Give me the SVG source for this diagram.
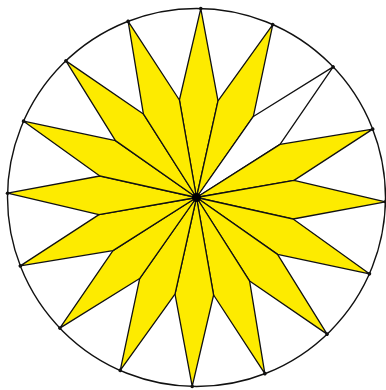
<svg xmlns="http://www.w3.org/2000/svg" xmlns:xlink="http://www.w3.org/1999/xlink" width="386" height="390" viewBox="0 0 386 390">
<style>
.k{fill:#FDEB00;stroke:#111;stroke-width:1.3;stroke-linejoin:round}
.w{fill:#ffffff;stroke:#111;stroke-width:1.3;stroke-linejoin:round}
.rim{fill:none;stroke:#111;stroke-width:1.4}
.tip{fill:#111}
</style>
<defs>
<path id="kite" d="M0,0 L19.31,-97.10 L0,-189 L-19.31,-97.10 Z"/>
<circle id="dot" cx="0" cy="-189" r="1.8"/>
</defs>
<rect width="386" height="390" fill="#ffffff"/>
<g id="star" transform="translate(196.5,197.5)">
<circle class="rim" cx="0" cy="0" r="189"/>
<use xlink:href="#kite" class="k" transform="rotate(1.3)"/>
<use xlink:href="#kite" class="k" transform="rotate(23.8)"/>
<use xlink:href="#kite" class="w" transform="rotate(46.3)"/>
<use xlink:href="#kite" class="k" transform="rotate(68.8)"/>
<use xlink:href="#kite" class="k" transform="rotate(91.3)"/>
<use xlink:href="#kite" class="k" transform="rotate(113.8)"/>
<use xlink:href="#kite" class="k" transform="rotate(136.3)"/>
<use xlink:href="#kite" class="k" transform="rotate(158.8)"/>
<use xlink:href="#kite" class="k" transform="rotate(181.3)"/>
<use xlink:href="#kite" class="k" transform="rotate(203.8)"/>
<use xlink:href="#kite" class="k" transform="rotate(226.3)"/>
<use xlink:href="#kite" class="k" transform="rotate(248.8)"/>
<use xlink:href="#kite" class="k" transform="rotate(271.3)"/>
<use xlink:href="#kite" class="k" transform="rotate(293.8)"/>
<use xlink:href="#kite" class="k" transform="rotate(316.3)"/>
<use xlink:href="#kite" class="k" transform="rotate(338.8)"/>
<g class="tip">
<use xlink:href="#dot" transform="rotate(1.3)"/>
<use xlink:href="#dot" transform="rotate(23.8)"/>
<use xlink:href="#dot" transform="rotate(46.3)"/>
<use xlink:href="#dot" transform="rotate(68.8)"/>
<use xlink:href="#dot" transform="rotate(91.3)"/>
<use xlink:href="#dot" transform="rotate(113.8)"/>
<use xlink:href="#dot" transform="rotate(136.3)"/>
<use xlink:href="#dot" transform="rotate(158.8)"/>
<use xlink:href="#dot" transform="rotate(181.3)"/>
<use xlink:href="#dot" transform="rotate(203.8)"/>
<use xlink:href="#dot" transform="rotate(226.3)"/>
<use xlink:href="#dot" transform="rotate(248.8)"/>
<use xlink:href="#dot" transform="rotate(271.3)"/>
<use xlink:href="#dot" transform="rotate(293.8)"/>
<use xlink:href="#dot" transform="rotate(316.3)"/>
<use xlink:href="#dot" transform="rotate(338.8)"/>
</g>
<circle cx="0" cy="0" r="4.5" fill="#000"/>
</g>
</svg>
